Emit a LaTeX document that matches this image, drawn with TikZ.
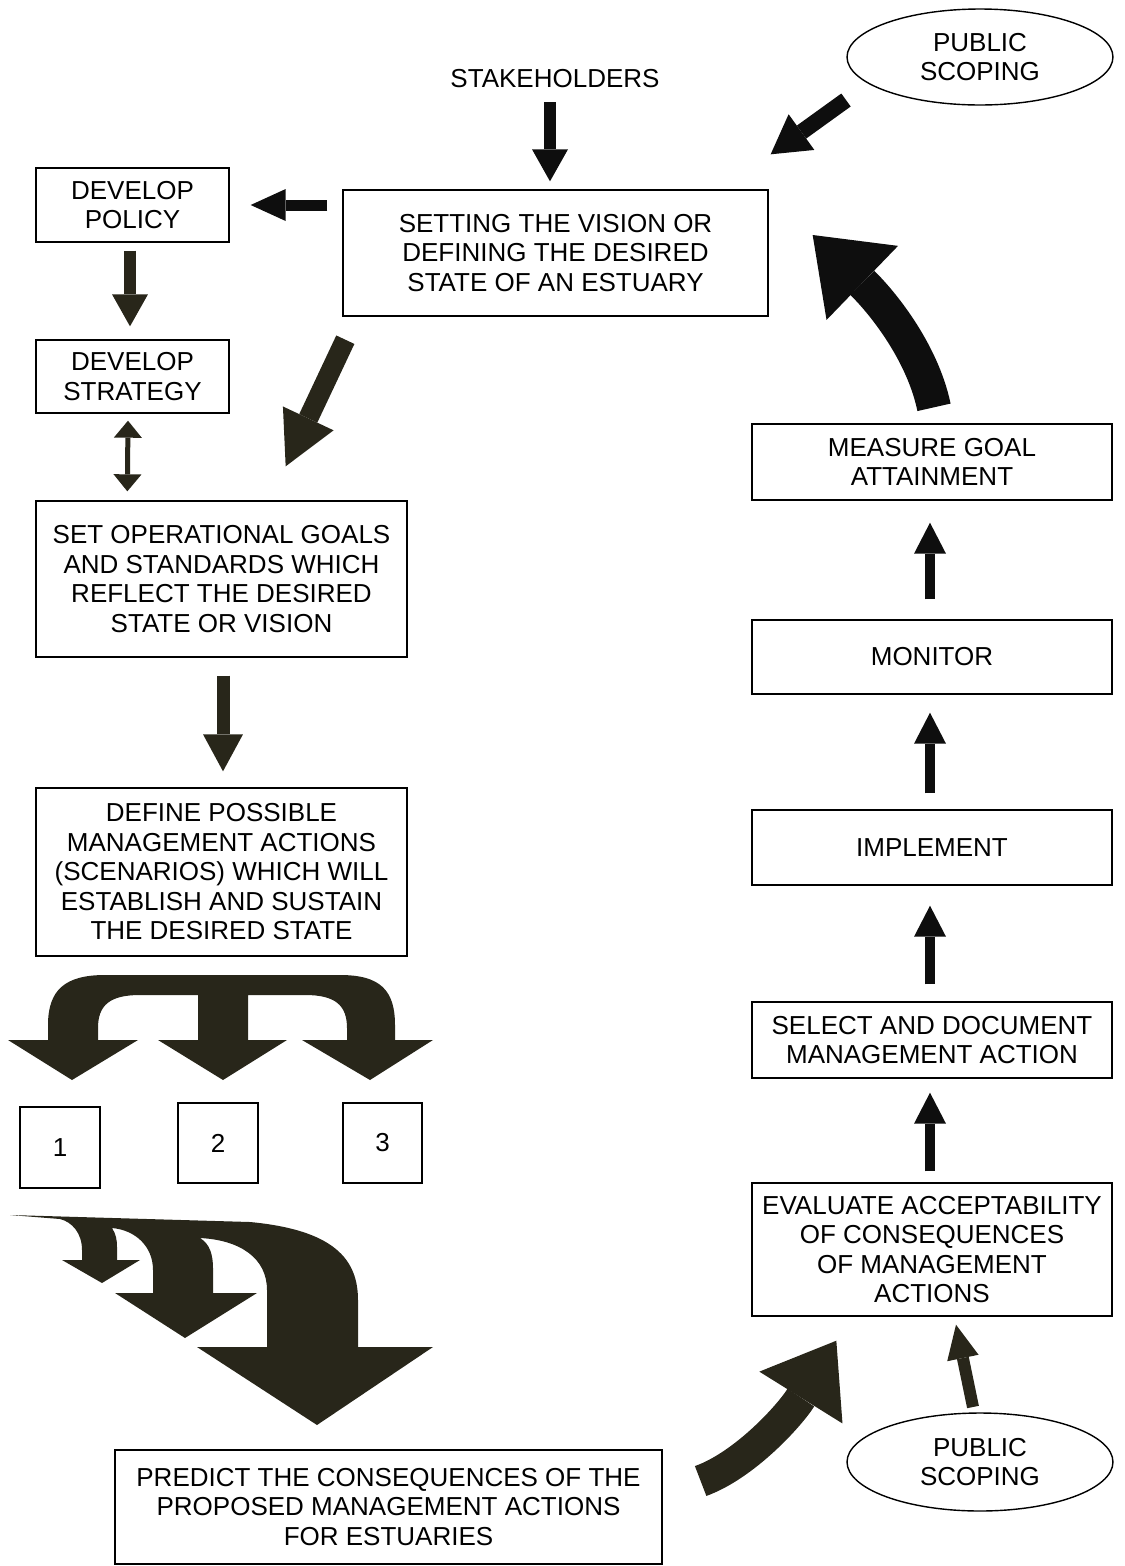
\documentclass[tikz,border=0pt]{standalone}
\usepackage{fontspec}
\setmainfont{Liberation Sans}
\usetikzlibrary{arrows.meta,shapes.geometric,calc}
\definecolor{ink}{RGB}{40,38,26}
\definecolor{jet}{RGB}{14,14,14}

\begin{document}
\begin{tikzpicture}[x=0.02cm,y=-0.02cm,
  box/.style={draw, line width=0.8pt, inner sep=0pt, align=center,
    font=\fontsize{14.8}{16.8}\selectfont},
  oval/.style={box, ellipse},
  label/.style={inner sep=0pt, font=\fontsize{14.8}{16.8}\selectfont},
  % thick block arrow: shaft width, head width, head length, colour
  blockarrow/.style n args={4}{line width=#1, draw=#4,
    -{Triangle[width=#2,length=#3,line width=0pt 0,fill=#4]}},
  blockboth/.style n args={4}{line width=#1, draw=#4,
    {Triangle[width=#2,length=#3,line width=0pt 0,fill=#4]}-{Triangle[width=#2,length=#3,line width=0pt 0,fill=#4]}},
]
\useasboundingbox (0,0) rectangle (1125,1566);

% ---- boxes ----
\node[label] (stake) at (555,79) {STAKEHOLDERS};
\node[oval, minimum width=5.32cm, minimum height=1.92cm] (scopeA) at (980,57) {PUBLIC\\SCOPING};
\node[box, minimum width=8.5cm, minimum height=2.52cm] (vision) at (555.5,253)
  {SETTING THE VISION OR\\DEFINING THE DESIRED\\STATE OF AN ESTUARY};
\node[box, minimum width=3.86cm, minimum height=1.48cm] (policy) at (132.5,205) {DEVELOP\\POLICY};
\node[box, minimum width=3.86cm, minimum height=1.46cm] (strategy) at (132.5,376.5) {DEVELOP\\STRATEGY};
\node[box, minimum width=7.42cm, minimum height=3.12cm] (goals) at (221.5,579)
  {SET OPERATIONAL GOALS\\AND STANDARDS WHICH\\REFLECT THE DESIRED\\STATE OR VISION};
\node[box, minimum width=7.42cm, minimum height=3.36cm] (define) at (221.5,872)
  {DEFINE POSSIBLE\\MANAGEMENT ACTIONS\\(SCENARIOS) WHICH WILL\\ESTABLISH AND SUSTAIN\\THE DESIRED STATE};
\node[box, minimum width=1.6cm, minimum height=1.62cm] (opt1) at (60,1147.5) {1};
\node[box, minimum width=1.6cm, minimum height=1.6cm] (opt2) at (218,1143) {2};
\node[box, minimum width=1.58cm, minimum height=1.6cm] (opt3) at (382.5,1143) {3};
\node[box, minimum width=10.94cm, minimum height=2.28cm] (predict) at (388.5,1507)
  {PREDICT THE CONSEQUENCES OF THE\\PROPOSED MANAGEMENT ACTIONS\\FOR ESTUARIES};

\node[box, minimum width=7.2cm, minimum height=1.52cm] (measure) at (932,462) {MEASURE GOAL\\ATTAINMENT};
\node[box, minimum width=7.2cm, minimum height=1.48cm] (monitor) at (932,657) {MONITOR};
\node[box, minimum width=7.2cm, minimum height=1.5cm] (implement) at (932,847.5) {IMPLEMENT};
\node[box, minimum width=7.2cm, minimum height=1.52cm] (select) at (932,1040) {SELECT AND DOCUMENT\\MANAGEMENT ACTION};
\node[box, minimum width=7.2cm, minimum height=2.66cm] (evaluate) at (932,1249.5)
  {EVALUATE ACCEPTABILITY\\OF CONSEQUENCES\\OF MANAGEMENT\\ACTIONS};
\node[oval, minimum width=5.32cm, minimum height=1.96cm] (scopeB) at (980,1462) {PUBLIC\\SCOPING};

% ---- straight block arrows ----
\draw[blockarrow={0.24cm}{0.72cm}{0.64cm}{jet}]
  ($(stake.south)+(-5,13.5)$) -- ($(vision.north)+(-5.5,-8)$);
\draw[blockarrow={0.22cm}{0.64cm}{0.7cm}{jet}]
  ($(vision.west)+(-15,-48)$) -- ($(policy.east)+(21,0)$);
\draw[blockarrow={0.32cm}{0.88cm}{0.76cm}{jet}]
  ($(scopeA)+(-134,43)$) -- ($(vision.north east)+(2,-35)$);
\draw[blockarrow={0.26cm}{0.72cm}{0.64cm}{ink}]
  ($(policy.south)+(-2.5,8)$) -- ($(strategy.north)+(-2.5,-13)$);
\draw[blockboth={0.1cm}{0.56cm}{0.34cm}{ink}]
  ($(strategy.south)+(-4.5,7)$) -- ($(goals.north west)+(92,-9)$);
\draw[blockarrow={0.4cm}{1.12cm}{1.06cm}{ink}]
  ($(vision.south west)+(3,23)$) -- ($(goals.north east)+(-122,-34)$);
\draw[blockarrow={0.26cm}{0.8cm}{0.74cm}{ink}]
  ($(goals.south)+(1.5,18)$) -- ($(define.north)+(1.5,-16)$);

\draw[blockarrow={0.2cm}{0.64cm}{0.62cm}{jet}]
  ($(monitor.north)+(-2,-20)$) -- ($(measure.south)+(-2,22)$);
\draw[blockarrow={0.2cm}{0.64cm}{0.62cm}{jet}]
  ($(implement.north)+(-2,-16)$) -- ($(monitor.south)+(-2,18)$);
\draw[blockarrow={0.2cm}{0.64cm}{0.62cm}{jet}]
  ($(select.north)+(-2,-17)$) -- ($(implement.south)+(-2,20)$);
\draw[blockarrow={0.2cm}{0.64cm}{0.62cm}{jet}]
  ($(evaluate.north)+(-2,-11)$) -- ($(select.south)+(-2,14)$);
\draw[blockarrow={0.24cm}{0.64cm}{0.68cm}{ink}]
  ($(scopeB)+(-7,-55)$) -- ($(evaluate.south)+(24,8)$);

% ---- curved block arrows ----
\draw[blockarrow={0.68cm}{2.06cm}{1.38cm}{jet}]
  ($(measure.north)+(2,-16)$) .. controls (922,350) and (880,300) .. ($(vision.east)+(44,-18)$);
\draw[blockarrow={0.64cm}{1.96cm}{1.34cm}{ink}]
  ($(predict.east)+(38,-26)$) .. controls (745,1465) and (790,1415) .. ($(evaluate.south west)+(85,24)$);

% ---- three-way split towards the options ----
\fill[ink] (8,1040) -- (72,1080) -- (138,1040) -- (98,1040) -- (98,1028)
  .. controls (98,1005) and (110,995) .. (140,995) -- (198,995) -- (198,1040)
  -- (158,1040) -- (223,1080) -- (287,1040) -- (248,1040) -- (248,995) -- (305,995)
  .. controls (335,995) and (347,1005) .. (347,1028) -- (347,1040) -- (302,1040)
  -- (370,1080) -- (433,1040) -- (395,1040) -- (395,1025)
  .. controls (395,990) and (380,975) .. (340,975) -- (105,975)
  .. controls (65,975) and (48,990) .. (48,1025) -- (48,1040) -- cycle;

% ---- cascading arrows towards the prediction ----
\fill[ink] (10,1215) -- (250,1222)
  .. controls (335,1230) and (358,1260) .. (358,1300) -- (358,1347)
  -- (433,1347) -- (317,1425) -- (197,1347) -- (267,1347) -- (267,1290)
  .. controls (267,1258) and (240,1240) .. (200,1238)
  .. controls (210,1244) and (213,1255) .. (213,1268) -- (213,1293)
  -- (257,1293) -- (185,1338) -- (115,1293) -- (153,1293) -- (153,1270)
  .. controls (153,1246) and (135,1230) .. (112,1228)
  .. controls (116,1234) and (117,1240) .. (117,1247) -- (117,1260)
  -- (140,1260) -- (102,1283) -- (62,1260) -- (82,1260) -- (82,1250)
  .. controls (82,1233) and (72,1222) .. (60,1219) -- cycle;
\end{tikzpicture}
\end{document}
